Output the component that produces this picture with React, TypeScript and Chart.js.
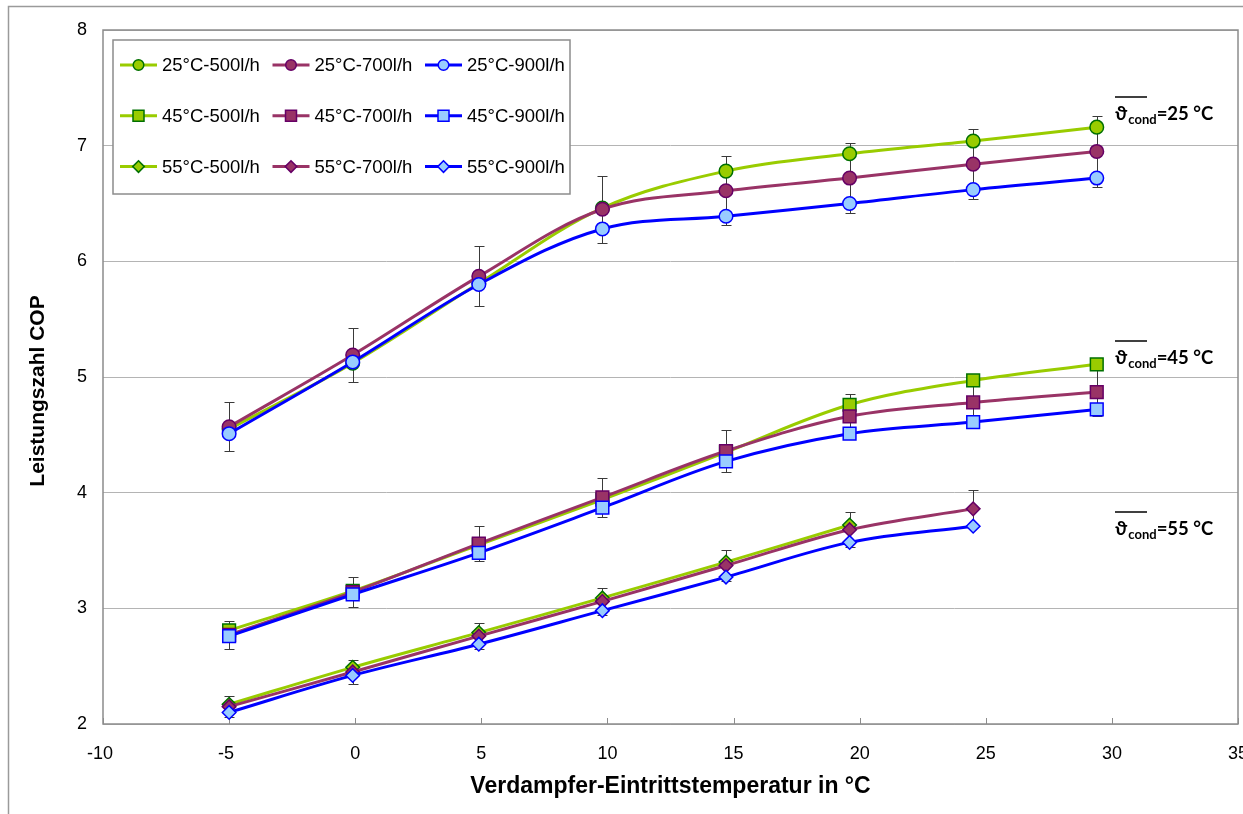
import { useEffect, useRef } from "react";
import { Chart, registerables } from "chart.js";

Chart.register(...registerables);

// Evaporator inlet temperatures (°C)
const evapTemps = [-5, -0.1, 4.9, 9.8, 14.7, 19.6, 24.5, 29.4];

// COP values, condenser 25 °C
const cop25_500 = [4.55, 5.12, 5.81, 6.46, 6.78, 6.93, 7.04, 7.16];
const cop25_700 = [4.57, 5.19, 5.87, 6.45, 6.61, 6.72, 6.84, 6.95];
const cop25_900 = [4.51, 5.13, 5.8, 6.28, 6.39, 6.5, 6.62, 6.72];
const err25 = [0.21, 0.23, 0.26, 0.29, 0.3, 0.3, 0.3, 0.31];

// COP values, condenser 45 °C
const cop45_500 = [2.81, 3.15, 3.55, 3.94, 4.35, 4.76, 4.97, 5.11];
const cop45_700 = [2.77, 3.14, 3.56, 3.96, 4.36, 4.66, 4.78, 4.87];
const cop45_900 = [2.76, 3.12, 3.48, 3.87, 4.27, 4.51, 4.61, 4.72];
const err45 = [0.12, 0.13, 0.15, 0.17, 0.18, 0.19, 0.2, 0.21];

// COP values, condenser 55 °C
const cop55_500 = [2.17, 2.49, 2.79, 3.09, 3.4, 3.72];
const cop55_700 = [2.15, 2.45, 2.76, 3.06, 3.37, 3.68, 3.86];
const cop55_900 = [2.1, 2.42, 2.69, 2.98, 3.27, 3.57, 3.71];
const err55 = [0.09, 0.1, 0.11, 0.12, 0.135, 0.15, 0.16];

const xTickValues = [-10, -5, 0, 5, 10, 15, 20, 25, 30, 35];
const condTemps = ["25", "45", "55"];
const flowRates = ["500l/h", "700l/h", "900l/h"];
const condLabels = ["=25 °C", "=45 °C", "=55 °C"];
const xTitle = "Verdampfer-Eintrittstemperatur in °C";
const yTitle = "Leistungszahl COP";

const lineColors = ["#99CC00", "#993366", "#0000FF"];
const fillColors = ["#99CC00", "#993366", "#99CCFF"];
const edgeColors = ["#007000", "#660066", "#0000FF"];
const shapes = ["circle", "rect", "rectRot"];
const radii = [6.8, 9, 6.8];

const groups = [
  { values: [cop25_500, cop25_700, cop25_900], err: err25 },
  { values: [cop45_500, cop45_700, cop45_900], err: err45 },
  { values: [cop55_500, cop55_700, cop55_900], err: err55 },
];

const FONT = "'Liberation Sans', Arial, sans-serif";
const CALI = "Lato, 'DejaVu Sans', sans-serif";

function drawMarker(ctx: CanvasRenderingContext2D, shape: string, x: number, y: number, r: number) {
  ctx.beginPath();
  if (shape === "circle") {
    ctx.arc(x, y, r, 0, Math.PI * 2);
  } else if (shape === "rect") {
    ctx.rect(x - r, y - r, 2 * r, 2 * r);
  } else {
    ctx.moveTo(x, y - r);
    ctx.lineTo(x + r, y);
    ctx.lineTo(x, y + r);
    ctx.lineTo(x - r, y);
    ctx.closePath();
  }
  ctx.fill();
  ctx.stroke();
}

const decorPlugin = {
  id: "decor",
  beforeDraw(chart: any) {
    const ctx = chart.ctx as CanvasRenderingContext2D;
    ctx.save();
    ctx.fillStyle = "#ffffff";
    ctx.fillRect(0, 0, chart.width, chart.height);
    ctx.strokeStyle = "#9a9a9a";
    ctx.lineWidth = 1.5;
    ctx.strokeRect(8.5, 6.5, chart.width + 20, chart.height + 20);
    ctx.restore();
  },
  beforeDatasetsDraw(chart: any) {
    const ctx = chart.ctx as CanvasRenderingContext2D;
    const a = chart.chartArea;
    const xs = chart.scales.x;
    const ys = chart.scales.y;
    ctx.save();
    ctx.strokeStyle = "#8c8c8c";
    ctx.lineWidth = 1.5;
    ctx.strokeRect(a.left, a.top, a.right - a.left, a.bottom - a.top);
    ctx.lineWidth = 1;
    xTickValues.forEach((v) => {
      const px = Math.round(xs.getPixelForValue(v)) + 0.5;
      ctx.beginPath();
      ctx.moveTo(px, a.bottom);
      ctx.lineTo(px, a.bottom - 6);
      ctx.stroke();
    });
    ctx.strokeStyle = "#3a3a3a";
    ctx.lineWidth = 1;
    groups.forEach((g) => {
      g.err.forEach((e, i) => {
        const v = g.values[1][i];
        const px = Math.round(xs.getPixelForValue(evapTemps[i])) + 0.5;
        const y1 = Math.round(ys.getPixelForValue(v + e)) + 0.5;
        const y2 = Math.round(ys.getPixelForValue(v - e)) + 0.5;
        ctx.beginPath();
        ctx.moveTo(px, y1);
        ctx.lineTo(px, y2);
        ctx.moveTo(px - 5, y1);
        ctx.lineTo(px + 5, y1);
        ctx.moveTo(px - 5, y2);
        ctx.lineTo(px + 5, y2);
        ctx.stroke();
      });
    });
    ctx.restore();
  },
  afterDraw(chart: any) {
    const ctx = chart.ctx as CanvasRenderingContext2D;
    const a = chart.chartArea;
    const xs = chart.scales.x;
    ctx.save();
    // x tick labels
    ctx.fillStyle = "#000";
    ctx.textAlign = "center";
    ctx.textBaseline = "middle";
    ctx.font = `18px ${FONT}`;
    xTickValues.forEach((v) => {
      ctx.fillText(String(v), xs.getPixelForValue(v) - (v < 0 ? 3 : 0), a.bottom + 30);
    });
    // axis titles
    ctx.font = `bold 23px ${FONT}`;
    ctx.fillText(xTitle, (a.left + a.right) / 2, 787);
    ctx.save();
    ctx.translate(38, 391);
    ctx.rotate(-Math.PI / 2);
    ctx.font = `bold 21px ${FONT}`;
    ctx.fillText(yTitle, 0, 0);
    ctx.restore();

    // legend box
    const lx = a.left + 10, ly = a.top + 10;
    ctx.fillStyle = "#ffffff";
    ctx.fillRect(lx, ly, 457, 154);
    ctx.strokeStyle = "#8c8c8c";
    ctx.lineWidth = 1.5;
    ctx.strokeRect(lx, ly, 457, 154);
    ctx.textAlign = "left";
    ctx.textBaseline = "middle";
    ctx.font = `18.5px ${FONT}`;
    for (let r = 0; r < 3; r++) {
      for (let c = 0; c < 3; c++) {
        const x0 = lx + 7 + c * 152.5;
        const y0 = ly + 25 + r * 50.8;
        ctx.strokeStyle = lineColors[c];
        ctx.lineWidth = 3;
        ctx.beginPath();
        ctx.moveTo(x0, y0);
        ctx.lineTo(x0 + 37, y0);
        ctx.stroke();
        ctx.fillStyle = fillColors[c];
        ctx.strokeStyle = edgeColors[c];
        ctx.lineWidth = 1.5;
        const mr = shapes[r] === "rect" ? 5.5 : shapes[r] === "circle" ? 5.3 : 5.8;
        drawMarker(ctx, shapes[r], x0 + 18.5, y0, mr);
        ctx.fillStyle = "#000";
        ctx.fillText(`${condTemps[r]}°C-${flowRates[c]}`, x0 + 42, y0 + 1);
      }
    }

    // condenser temperature annotations
    const baselines = [a.top + 90, a.top + 334, a.top + 505];
    baselines.forEach((by, i) => {
      let x = a.right - 123;
      ctx.fillStyle = "#000";
      ctx.textBaseline = "alphabetic";
      ctx.textAlign = "left";
      ctx.font = `bold 19px ${CALI}`;
      ctx.fillText("ϑ", x, by);
      const w = ctx.measureText("ϑ").width;
      const ox = x;
      x += w + 1;
      ctx.font = `bold 13px ${CALI}`;
      ctx.fillText("cond", x, by + 4);
      x += ctx.measureText("cond").width;
      ctx.font = `bold 18.5px ${CALI}`;
      ctx.fillText(condLabels[i], x, by);
      ctx.strokeStyle = "#000";
      ctx.lineWidth = 1.5;
      ctx.beginPath();
      ctx.moveTo(ox, by - 23);
      ctx.lineTo(ox + 32, by - 23);
      ctx.stroke();
    });
    ctx.restore();
  },
};

export default function App() {
  const ref = useRef<HTMLCanvasElement>(null);
  useEffect(() => {
    if (!ref.current) return;
    const datasets: any[] = [];
    groups.forEach((g, gi) => {
      g.values.forEach((vals, ci) => {
        datasets.push({
          label: `${condTemps[gi]}°C-${flowRates[ci]}`,
          data: vals.map((v, i) => ({ x: evapTemps[i], y: v })),
          borderColor: lineColors[ci],
          backgroundColor: fillColors[ci],
          borderWidth: 3,
          pointStyle: shapes[gi],
          pointRadius: radii[gi],
          pointBackgroundColor: fillColors[ci],
          pointBorderColor: edgeColors[ci],
          pointBorderWidth: 1.5,
          tension: 0.35,
          fill: false,
          order: 3 - ci,
        });
      });
    });
    const chart = new Chart(ref.current, {
      type: "line",
      data: { datasets },
      options: {
        animation: false,
        responsive: false,
        devicePixelRatio: 1,
        layout: { autoPadding: false, padding: { top: 30, right: 5, left: 0, bottom: 0 } },
        plugins: { legend: { display: false }, tooltip: { enabled: false } },
        scales: {
          x: {
            type: "linear",
            min: -10,
            max: 35,
            ticks: { stepSize: 5, display: false },
            grid: { display: false, drawTicks: false },
            border: { display: false },
            afterFit: (s: any) => {
              s.height = 90;
              s.paddingLeft = 0;
              s.paddingRight = 0;
            },
          },
          y: {
            min: 2,
            max: 8,
            ticks: { stepSize: 1, color: "#000", font: { family: FONT, size: 18 }, padding: 16 },
            grid: { color: "#b4b4b4", lineWidth: 1, drawTicks: false },
            border: { display: false },
            afterFit: (s: any) => {
              s.width = 103;
            },
          },
        },
      },
      plugins: [decorPlugin],
    });
    return () => chart.destroy();
  }, []);
  return (
    <div style={{ position: "absolute", left: 0, top: 0, width: 1243, height: 814, background: "#fff" }}>
      <canvas ref={ref} width={1243} height={814} style={{ display: "block" }} />
    </div>
  );
}
